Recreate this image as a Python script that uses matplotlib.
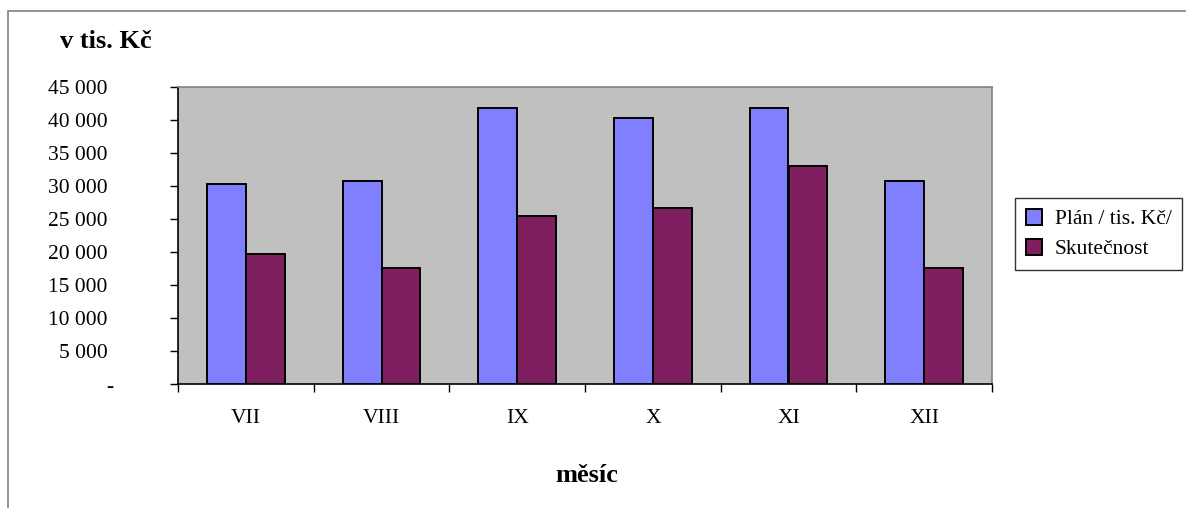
import matplotlib
matplotlib.use("Agg")
import matplotlib.pyplot as plt
import numpy as np
from matplotlib.patches import Rectangle
from matplotlib.ticker import FixedLocator, FuncFormatter

months = ["VII", "VIII", "IX", "X", "XI", "XII"]
plan = [30200, 30700, 41700, 40200, 41700, 30700]
actual = [19600, 17600, 25400, 26600, 33000, 17600]
series_names = ["Plán / tis. Kč/", "Skutečnost"]
y_ticks = [0, 5000, 10000, 15000, 20000, 25000, 30000, 35000, 40000, 45000]

plt.rcParams['font.family'] = ['Liberation Serif', 'DejaVu Serif']

W, H = 1186, 508
fig = plt.figure(figsize=(W / 100, H / 100), dpi=100)

# outer chart frame
fig.patches.append(Rectangle((8 / W, -0.1), 1.5, (H - 11) / H + 0.1,
                             transform=fig.transFigure, fill=False,
                             edgecolor="#808080", linewidth=1.2))

left, right, top, bottom = 178, 992, 86.5, 384
ax = fig.add_axes([left / W, 1 - bottom / H, (right - left) / W, (bottom - top) / H])
ax.set_facecolor("#C0C0C0")

x = np.arange(len(months))
bw = 1 / 3.5
ax.bar(x - bw / 2, plan, bw, color="#8080FF", edgecolor="black", linewidth=1.4,
       label=series_names[0], zorder=3)
ax.bar(x + bw / 2, actual, bw, color="#7F1F5F", edgecolor="black", linewidth=1.4,
       label=series_names[1], zorder=3)

ax.set_xlim(-0.5, len(months) - 0.5)
ax.set_ylim(0, 45000)

ax.yaxis.set_major_locator(FixedLocator(y_ticks))
ax.yaxis.set_major_formatter(FuncFormatter(
    lambda v, p: "" if v == 0 else f"{int(v):,}".replace(",", " ")))
ax.tick_params(axis="y", direction="out", length=6, width=1, pad=44.5,
               labelsize=15.5, colors="black")
# zero shown as a dash (accounting format)
fig.text(110 / W, 1 - 387 / H, "-", fontsize=15.5, ha="center", va="center")

ax.xaxis.set_major_locator(FixedLocator(np.arange(-0.5, len(months), 1)))
ax.xaxis.set_major_formatter(FuncFormatter(lambda v, p: ""))
ax.xaxis.set_minor_locator(FixedLocator(x))
ax.set_xticklabels(months, minor=True)
ax.tick_params(axis="x", which="major", direction="out", length=6, width=1)
ax.tick_params(axis="x", which="minor", length=0, pad=18, labelsize=15.5)

for s in ["top", "right"]:
    ax.spines[s].set_color("#808080")
    ax.spines[s].set_linewidth(1.2)
for s in ["left", "bottom"]:
    ax.spines[s].set_color("black")
    ax.spines[s].set_linewidth(1.2)

fig.text(106 / W, 1 - 42 / H, "v tis. Kč", fontsize=19, fontweight="bold",
         ha="center", va="center")
fig.text(587 / W, 1 - 475 / H, "měsíc", fontsize=19, fontweight="bold",
         ha="center", va="center")

leg = fig.legend(loc="center", bbox_to_anchor=((1013 + 1184) / 2 / W, 1 - 234 / H),
                 fontsize=15.5, frameon=True, fancybox=False, edgecolor="black",
                 handlelength=0.75, handleheight=0.75, handletextpad=0.6,
                 labelspacing=0.45, borderpad=0.5)
leg.get_frame().set_linewidth(1.0)

fig.savefig("out.png", dpi=100)
